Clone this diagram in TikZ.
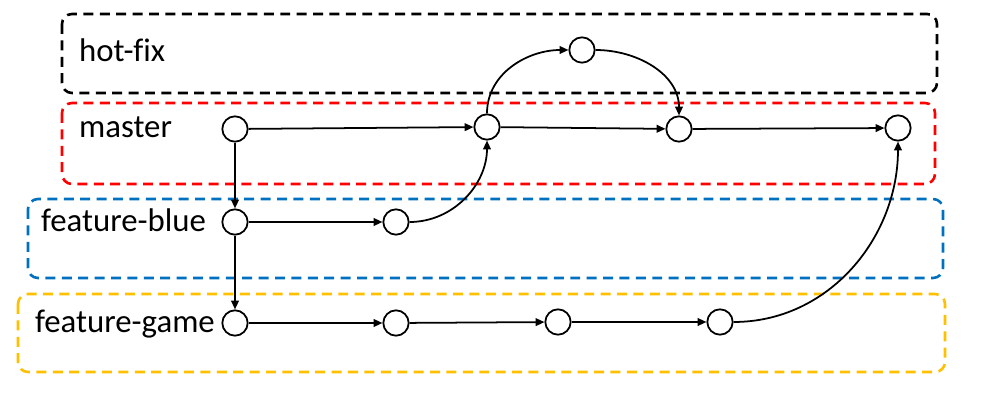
\documentclass[tikz,border=0pt]{standalone}
\usepackage{fontspec}
\setmainfont[Ligatures=NoCommon]{Carlito}
\usepackage{xcolor}
\usetikzlibrary{arrows.meta}
\definecolor{fixblack}{RGB}{0,0,0}
\definecolor{masterred}{RGB}{255,0,0}
\definecolor{blueline}{RGB}{0,112,192}
\definecolor{gameyellow}{RGB}{255,192,0}

\begin{document}
\begin{tikzpicture}[x=0.03cm,y=-0.03cm,>={Triangle[length=7.5pt,width=6.5pt]},
  commit/.style={shape=circle,draw,line width=1.5pt,fill=white,minimum size=0.76cm,inner sep=0pt},
  branch/.style={draw=#1,line width=2.2pt,dash pattern=on 8.5pt off 5.5pt,rounded corners=0.3cm},
  label/.style={anchor=base west,font=\fontsize{28}{32}\selectfont},
  link/.style={->,line width=1.5pt}]
\useasboundingbox (0,0) rectangle (999,405);
% branches
\draw[branch=fixblack](62,14) rectangle (937,93);
\draw[branch=masterred](62,103) rectangle (935,184);
\draw[branch=blueline](28,199) rectangle (943,278);
\draw[branch=gameyellow](18,294) rectangle (945,372);
\node[label] (lfix) at (75,62) {hot-fix};
\node[label] (lmaster) at (75,138) {master};
\node[label] (lblue) at (37,232) {feature-blue};
\node[label] (lgame) at (31,333) {feature-game};
% commits
\node[commit] (h1) at (582,50) {};
\node[commit] (m1) at (235,129) {};
\node[commit] (m2) at (487,127) {};
\node[commit] (m3) at (679,129) {};
\node[commit] (m4) at (898,128) {};
\node[commit] (b1) at (235,222) {};
\node[commit] (b2) at (396,222) {};
\node[commit] (g1) at (235,323) {};
\node[commit] (g2) at (396,323) {};
\node[commit] (g3) at (558,322) {};
\node[commit] (g4) at (720,322) {};
% history
\draw[link](m1)--(m2);
\draw[link](m2)--(m3);
\draw[link](m3)--(m4);
\draw[link](m1)--(b1);
\draw[link](b1)--(g1);
\draw[link](b1)--(b2);
\draw[link](b2.east) to[out=0,in=-90] (m2.south);
\draw[link](m2.north) to[out=90,in=180] (h1.west);
\draw[link](h1.east) to[out=0,in=90] (m3.north);
\draw[link](g1)--(g2);
\draw[link](g2)--(g3);
\draw[link](g3)--(g4);
\draw[link](g4.east) to[out=0,in=-90] (m4.south);
\end{tikzpicture}
\end{document}
